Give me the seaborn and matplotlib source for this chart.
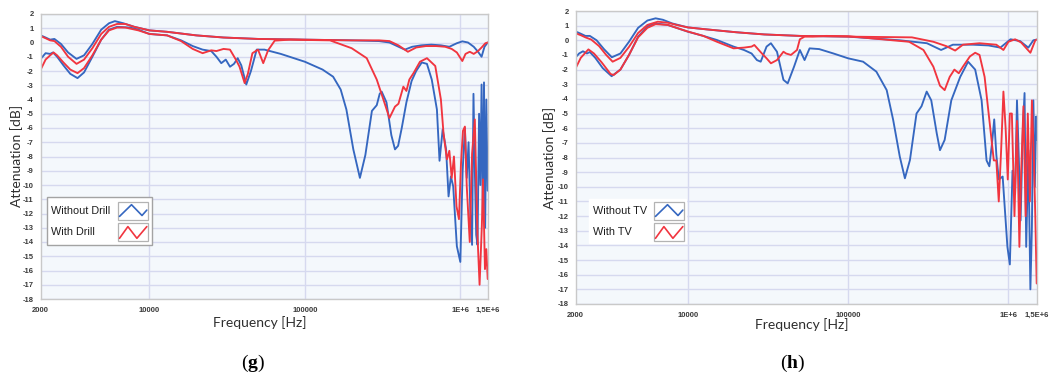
import matplotlib
matplotlib.use("Agg")
import matplotlib.pyplot as plt
import pandas as pd
import seaborn as sns
from matplotlib.lines import Line2D
from matplotlib.patches import Rectangle
from matplotlib.ticker import FixedLocator, NullFormatter

# ---------------------------------------------------------------- data (g)
g_wo_a_hz = [2000, 2150, 2300, 2450, 2700, 3000, 3400, 3800, 4300, 4900, 5500, 6000,
             6800, 8000, 10000, 13000, 20000, 30000, 50000, 100000, 200000, 300000,
             350000, 410000, 440000, 490000, 560000, 650000, 750000, 850000, 950000,
             1030000, 1120000, 1220000, 1300000, 1370000, 1430000, 1500000]
g_wo_a_db = [0.5, 0.35, 0.2, 0.25, -0.1, -0.7, -1.15, -0.9, -0.1, 0.9, 1.35, 1.5,
             1.35, 1.1, 0.85, 0.75, 0.5, 0.35, 0.25, 0.2, 0.15, 0.1,
             0.0, -0.35, -0.5, -0.3, -0.2, -0.15, -0.2, -0.3, -0.05,
             0.08, 0.0, -0.3, -0.65, -1.0, -0.3, 0.0]

g_wi_a_hz = [2000, 2150, 2300, 2450, 2700, 3000, 3400, 3800, 4300, 4900, 5500, 6200,
             7000, 8000, 10000, 13000, 20000, 30000, 50000, 100000, 200000, 300000,
             350000, 400000, 460000, 520000, 600000, 700000, 800000, 880000, 950000,
             1030000, 1080000, 1150000, 1220000, 1300000, 1370000, 1450000, 1500000]
g_wi_a_db = [0.45, 0.3, 0.15, 0.1, -0.3, -1.0, -1.5, -1.2, -0.4, 0.6, 1.1, 1.3,
             1.3, 1.1, 0.85, 0.75, 0.5, 0.35, 0.25, 0.2, 0.15, 0.15,
             0.1, -0.2, -0.65, -0.35, -0.25, -0.25, -0.3, -0.45, -0.7,
             -1.3, -0.8, -0.65, -0.8, -0.6, -0.35, -0.05, 0.0]

g_wo_b_hz = [2000, 2150, 2300, 2400, 2550, 2800, 3100, 3450, 3800, 4300, 4900, 5500,
             6200, 7500, 8500, 10000, 13000, 16000, 19000, 22000, 25000, 27000, 29000,
             31000, 33000, 35000, 37000, 39000, 42000, 45000, 49000, 55000, 70000,
             100000, 130000, 152000, 170000, 185000, 205000, 226000, 245000, 270000,
             290000, 303000, 312000, 335000, 360000, 380000, 398000, 420000, 450000,
             486000, 520000, 565000, 610000, 655000, 707000, 735000, 770000, 810000,
             840000, 870000, 900000, 950000, 1000000, 1035000, 1070000, 1100000,
             1130000, 1160000, 1190000, 1215000, 1240000, 1265000, 1290000, 1320000,
             1345000, 1370000, 1395000, 1420000, 1445000, 1470000, 1500000]
g_wo_b_db = [-1.15, -0.75, -0.8, -0.7, -1.0, -1.6, -2.2, -2.5, -2.1, -1.0, 0.2, 0.9,
             1.1, 1.05, 0.9, 0.6, 0.5, 0.15, -0.25, -0.5, -0.6, -1.0, -1.45,
             -1.2, -1.7, -1.5, -1.1, -1.6, -2.95, -2.0, -0.5, -0.5, -0.8,
             -1.35, -1.9, -2.4, -3.3, -4.7, -7.5, -9.5, -7.9, -4.8,
             -4.4, -3.6, -3.45, -4.2, -6.5, -7.5, -7.25, -6.0, -4.2,
             -2.7, -2.0, -1.4, -1.5, -2.6, -4.7, -8.3, -6.1, -7.5,
             -10.8, -9.4, -10.1, -14.3, -15.4, -9.0, -6.0, -9.5,
             -7.0, -12.0, -14.2, -3.6, -9.0, -13.5, -14.2, -5.0,
             -10.0, -2.95, -12.0, -2.8, -13.0, -4.0, -10.4]

g_wi_b_hz = [2000, 2150, 2300, 2420, 2550, 2800, 3100, 3450, 3800, 4300, 4900, 5500,
             6200, 7000, 8500, 10000, 13000, 16000, 19000, 22000, 25000, 27000, 30000,
             33000, 36000, 38000, 41000, 43000, 46000, 50000, 54000, 58000, 64000,
             80000, 100000, 145000, 200000, 250000, 290000, 320000, 350000, 380000,
             400000, 430000, 450000, 470000, 500000, 550000, 610000, 690000, 750000,
             780000, 820000, 850000, 880000, 910000, 945000, 980000, 1010000, 1040000,
             1070000, 1100000, 1150000, 1190000, 1240000, 1290000, 1330000, 1375000,
             1400000, 1440000, 1470000, 1500000]
g_wi_b_db = [-1.9, -1.2, -0.9, -0.7, -0.9, -1.4, -1.9, -2.15, -1.8, -0.9, 0.2, 0.85,
             1.05, 1.05, 0.85, 0.6, 0.5, 0.1, -0.45, -0.75, -0.55, -0.6, -0.45,
             -0.5, -1.2, -1.7, -2.85, -2.2, -0.75, -0.5, -1.45, -0.55, 0.13,
             0.2, 0.18, 0.15, -0.4, -1.1, -2.6, -4.0, -5.3, -4.5,
             -4.3, -3.1, -3.4, -2.6, -2.15, -1.35, -1.1, -1.65, -4.0,
             -6.4, -8.2, -7.6, -9.5, -8.0, -11.5, -12.4, -8.5, -6.2,
             -5.9, -10.1, -14.0, -7.8, -5.4, -13.6, -17.0, -12.9,
             -9.6, -15.9, -14.5, -16.6]

# ---------------------------------------------------------------- data (h)
h_wo_a_hz = [2000, 2150, 2300, 2450, 2700, 3000, 3360, 3800, 4300, 4900, 5600, 6300,
             7000, 8000, 10000, 13000, 20000, 30000, 50000, 100000, 210000, 310000,
             380000, 450000, 600000, 750000, 890000, 1030000, 1180000, 1330000,
             1430000, 1500000]
h_wo_a_db = [0.6, 0.45, 0.3, 0.3, 0.0, -0.6, -1.16, -0.9, -0.1, 0.85, 1.35, 1.5,
             1.4, 1.15, 0.88, 0.75, 0.55, 0.4, 0.3, 0.25, 0.0, -0.2,
             -0.66, -0.3, -0.3, -0.35, -0.5, 0.07, -0.05, -0.5,
             0.0, 0.05]

h_wi_a_hz = [2000, 2150, 2300, 2500, 2800, 3100, 3400, 3800, 4300, 4900, 5600, 6500,
             7500, 8500, 10000, 13000, 20000, 30000, 50000, 100000, 250000, 340000,
             410000, 465000, 520000, 660000, 840000, 930000, 1000000, 1100000,
             1200000, 1370000, 1470000, 1500000]
h_wi_a_db = [0.48, 0.35, 0.2, 0.05, -0.4, -1.0, -1.46, -1.2, -0.45, 0.5, 1.05, 1.27,
             1.2, 1.05, 0.88, 0.75, 0.55, 0.4, 0.3, 0.25, 0.2, -0.1,
             -0.4, -0.7, -0.3, -0.2, -0.3, -0.66, -0.1, 0.07,
             -0.15, -0.85, 0.0, 0.05]

h_wo_b_hz = [2000, 2100, 2220, 2350, 2450, 2650, 2950, 3350, 3800, 4300, 4900, 5600,
             6300, 7500, 8500, 10000, 12500, 15200, 19300, 22400, 25000, 27000, 28500,
             31000, 33000, 34500, 36000, 39500, 42000, 46000, 50000, 53500, 57500,
             66000, 81000, 100000, 124000, 150000, 174000, 191000, 210000, 226000,
             243000, 267000, 287000, 309000, 330000, 357000, 374000, 400000, 440000,
             500000, 560000, 620000, 680000, 730000, 760000, 790000, 815000, 840000,
             870000, 920000, 985000, 1020000, 1060000, 1100000, 1130000, 1160000,
             1190000, 1230000, 1260000, 1290000, 1330000, 1370000, 1400000, 1430000,
             1460000, 1490000, 1500000]
h_wo_b_db = [-1.16, -0.9, -0.75, -0.9, -0.8, -1.2, -1.9, -2.45, -2.0, -1.0, 0.25, 0.95,
             1.15, 1.05, 0.85, 0.59, 0.3, 0.02, -0.43, -0.66, -0.9, -1.35, -1.46,
             -0.43, -0.2, -0.5, -0.78, -2.7, -2.94, -1.8, -0.66, -1.35, -0.55,
             -0.6, -0.9, -1.23, -1.46, -2.14, -3.4, -5.44, -7.94, -9.42,
             -8.17, -5.0, -4.5, -3.5, -4.1, -6.35, -7.5, -6.8, -4.1,
             -2.5, -1.46, -2.0, -4.1, -8.2, -8.6, -7.0, -5.4, -7.8,
             -9.5, -9.3, -14.1, -15.3, -8.9, -10.5, -4.1, -8.0,
             -12.3, -6.0, -3.6, -14.1, -7.5, -17.0, -12.8, -4.1,
             -10.0, -5.2, -6.8]

h_wi_b_hz = [2000, 2150, 2400, 2600, 2900, 3300, 3450, 3800, 4300, 4900, 5600, 6300,
             7500, 8500, 10000, 12500, 15200, 19300, 22400, 25000, 26000, 29000, 31000,
             33000, 36000, 39500, 41000, 44000, 48000, 50000, 53500, 60000, 73000,
             100000, 190000, 240000, 295000, 340000, 374000, 400000, 430000, 460000,
             490000, 520000, 575000, 620000, 660000, 710000, 770000, 810000, 840000,
             870000, 900000, 930000, 960000, 990000, 1020000, 1050000, 1090000, 1130000,
             1170000, 1200000, 1240000, 1280000, 1320000, 1360000, 1400000, 1440000,
             1470000, 1500000]
h_wi_b_db = [-1.9, -1.2, -0.62, -0.9, -1.5, -2.3, -2.37, -2.0, -1.0, 0.2, 0.85, 1.1,
             1.05, 0.85, 0.6, 0.3, -0.1, -0.55, -0.5, -0.43, -0.32, -0.9, -1.23,
             -1.57, -1.35, -0.78, -0.9, -1.0, -0.66, 0.07, 0.25, 0.25, 0.3,
             0.28, 0.0, -0.1, -0.66, -1.8, -3.1, -3.4, -2.5, -2.0,
             -2.25, -1.8, -1.1, -0.85, -1.0, -2.5, -6.0, -8.2, -8.2,
             -11.0, -7.5, -3.5, -6.0, -9.5, -5.0, -5.0, -12.0, -5.5,
             -14.1, -9.0, -4.5, -12.0, -5.0, -11.0, -4.1, -8.0,
             -12.0, -16.6]

# ---------------------------------------------------------------- axis text
x_tick_hz = [2000, 10000, 100000, 1000000, 1500000]
x_tick_labels = ["2000", "10000", "100000", "1E+6", "1,5E+6"]
y_ticks = list(range(-18, 3))
legend_g = ["Without Drill", "With Drill"]
legend_h = ["Without TV", "With TV"]

BLUE = "#3567c0"
RED = "#f1353f"
GRID = "#d6d9ef"
FACE = "#f4f8fc"
SPINE = "#c9c9c9"

W_PX, H_PX = 1055, 374

sns.set_theme(style="white")
plt.rcParams["font.family"] = ["Liberation Sans", "DejaVu Sans"]
plt.rcParams["mathtext.fontset"] = "custom"
plt.rcParams["mathtext.rm"] = "Liberation Serif"
plt.rcParams["mathtext.bf"] = "Liberation Serif:bold"


def fx(px):
    return px / W_PX


def fy(py):
    return 1 - py / H_PX


def long_frame(labels, curves):
    parts = []
    for (cond, mode, hz, db) in curves:
        parts.append(pd.DataFrame({"freq": hz, "db": db,
                                   "condition": labels[cond], "mode": mode}))
    return pd.concat(parts, ignore_index=True)


ZIG_BLUE = [(0.05, 0.2), (0.45, 0.85), (0.8, 0.25), (0.96, 0.55)]
ZIG_RED = [(0.05, 0.15), (0.33, 0.8), (0.63, 0.15), (0.96, 0.8)]


def draw_key(fig, box, text_x, icon_x, rows, labels, edge):
    """Key box: left-aligned labels with a zig-zag swatch box on the right."""
    x0, y0, x1, y1 = box
    fig.add_artist(Rectangle((fx(x0), fy(y1)), fx(x1) - fx(x0), fy(y0) - fy(y1),
                             transform=fig.transFigure, facecolor="white",
                             edgecolor=edge, lw=1.0, zorder=5))
    for label, yc, color, zig in zip(labels, rows, (BLUE, RED), (ZIG_BLUE, ZIG_RED)):
        fig.text(fx(text_x), fy(yc), label, ha="left", va="center", fontsize=7.8,
                 color="#1e1e1e", zorder=6)
        ix0, ix1 = icon_x
        iy0, iy1 = yc - 9, yc + 9
        fig.add_artist(Rectangle((fx(ix0), fy(iy1)), fx(ix1) - fx(ix0),
                                 fy(iy0) - fy(iy1), transform=fig.transFigure,
                                 facecolor="white", edgecolor="#b3b3b3", lw=0.9,
                                 zorder=6))
        xs = [fx(ix0 + p[0] * (ix1 - ix0)) for p in zig]
        ys = [fy(iy1 - p[1] * (iy1 - iy0)) for p in zig]
        fig.add_artist(Line2D(xs, ys, color=color, lw=1.2,
                              transform=fig.transFigure, zorder=7))


def draw_panel(fig, rect, labels, df):
    ax = fig.add_axes(rect)
    ax.set_facecolor(FACE)
    sns.lineplot(data=df, x="freq", y="db", hue="condition", units="mode",
                 estimator=None, hue_order=labels, palette=[BLUE, RED],
                 lw=1.35, legend=False, ax=ax)
    ax.set_xscale("log")
    ax.set_xlim(2000, 1.5e6)
    ax.set_ylim(-18, 2)
    ax.set_xlabel("")
    ax.set_ylabel("")

    ax.xaxis.set_major_locator(FixedLocator(x_tick_hz))
    ax.set_xticklabels(x_tick_labels)
    minors = [m * d for d in (1000, 10000, 100000) for m in range(2, 10)]
    minors = [m for m in minors if 2000 < m < 1.5e6 and m not in x_tick_hz]
    ax.xaxis.set_minor_locator(FixedLocator(minors))
    ax.xaxis.set_minor_formatter(NullFormatter())
    ax.set_yticks(y_ticks)
    ax.set_yticklabels([str(v) for v in y_ticks])

    ax.tick_params(axis="both", which="both", direction="out", color="#8a8a8a",
                   width=0.9, labelsize=5.5, labelcolor="#3a3a3a")
    ax.tick_params(axis="x", which="major", length=3, pad=2.5)
    ax.tick_params(axis="x", which="minor", length=2.5)
    ax.tick_params(axis="y", length=3.5, pad=1.5)
    for lab in ax.get_xticklabels() + ax.get_yticklabels():
        lab.set_fontweight("bold")

    ax.grid(False)
    for v in y_ticks:
        ax.axhline(v, color=GRID, lw=1.0, zorder=0.5)
    for f in (10000, 100000, 1000000):
        ax.axvline(f, color=GRID, lw=1.0, zorder=0.5)
    for s in ax.spines.values():
        s.set_color(SPINE)
        s.set_linewidth(1.0)
    return ax


fig = plt.figure(figsize=(10.55, 3.74), dpi=100)

df_g = long_frame(legend_g, [
    (0, "a", g_wo_a_hz, g_wo_a_db), (0, "b", g_wo_b_hz, g_wo_b_db),
    (1, "a", g_wi_a_hz, g_wi_a_db), (1, "b", g_wi_b_hz, g_wi_b_db)])
df_h = long_frame(legend_h, [
    (0, "a", h_wo_a_hz, h_wo_a_db), (0, "b", h_wo_b_hz, h_wo_b_db),
    (1, "a", h_wi_a_hz, h_wi_a_db), (1, "b", h_wi_b_hz, h_wi_b_db)])

draw_panel(fig, [fx(40.7), fy(299), fx(447), 285 / H_PX], legend_g, df_g)
draw_panel(fig, [fx(575.7), fy(304), fx(461), 293 / H_PX], legend_h, df_h)

draw_key(fig, (47, 197, 152, 245), 51, (118, 148), (211, 232), legend_g, "#a3a3a3")
draw_key(fig, (589, 199, 686, 243), 593, (654, 684), (211, 232), legend_h, "white")

label_font = dict(family=["Lato", "DejaVu Sans"], size=10, color="#2e2e2e")
fig.text(fx(17), fy(156), "Attenuation [dB]", rotation=90,
         ha="center", va="center", **label_font)
fig.text(fx(550), fy(158), "Attenuation [dB]", rotation=90,
         ha="center", va="center", **label_font)
fig.text(fx(260), fy(323), "Frequency [Hz]", ha="center", va="center", **label_font)
fig.text(fx(802), fy(325), "Frequency [Hz]", ha="center", va="center", **label_font)

cap_font = dict(family=["Liberation Serif", "DejaVu Serif"], size=14, color="black")
fig.text(fx(253), fy(363), r"($\mathbf{g}$)", ha="center", va="center", **cap_font)
fig.text(fx(793), fy(363), r"($\mathbf{h}$)", ha="center", va="center", **cap_font)

fig.savefig("out.png", dpi=100)
